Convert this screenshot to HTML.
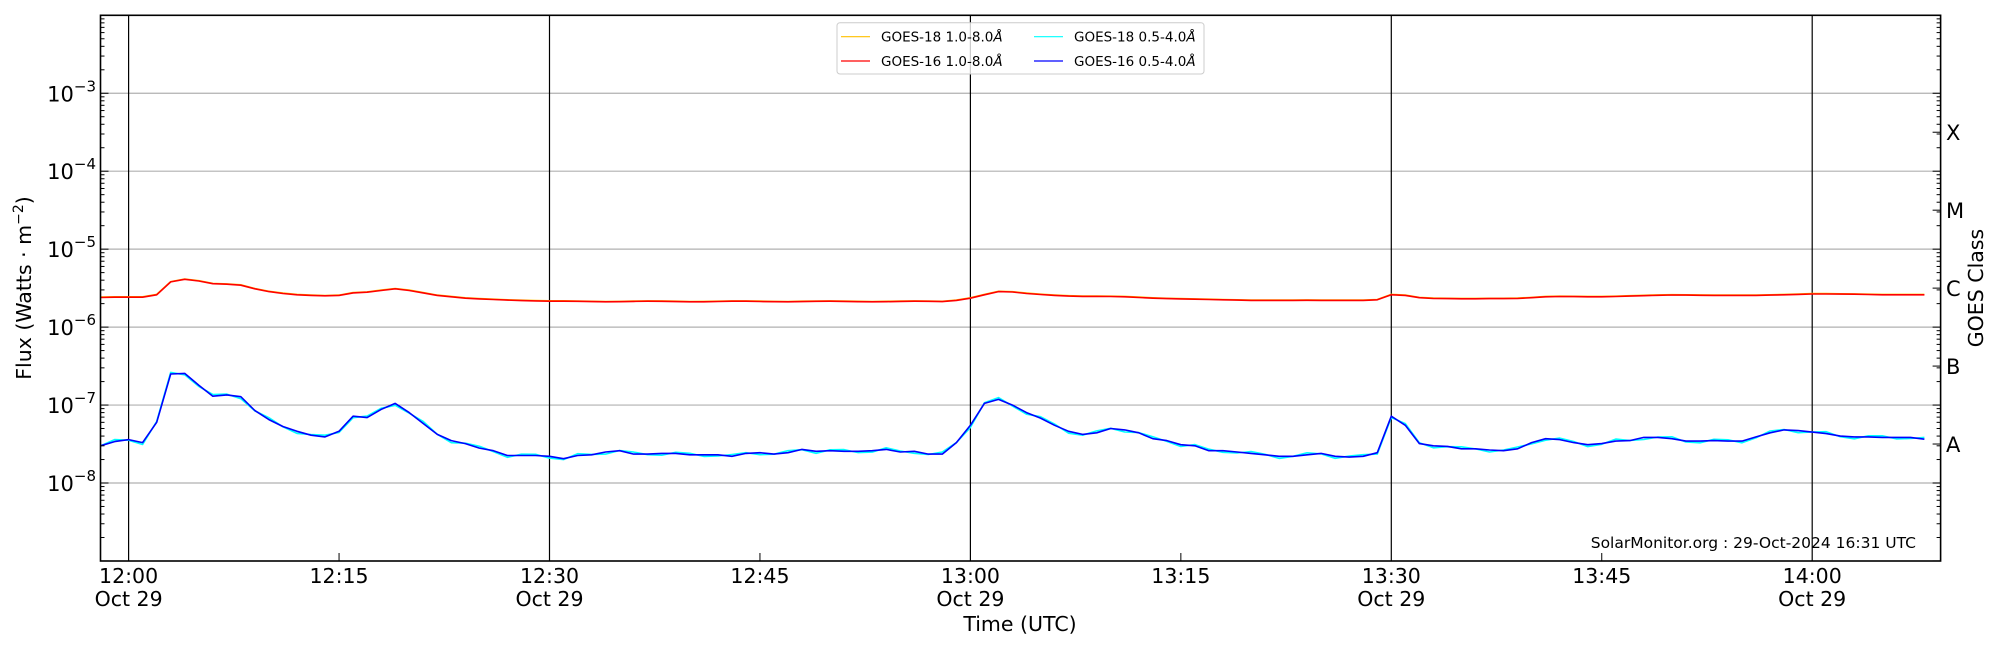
<!DOCTYPE html>
<html><head><meta charset="utf-8">
<style>
html,body{margin:0;padding:0;background:#fff;}
svg{display:block;font-family:"DejaVu Sans","Liberation Sans",sans-serif;}
</style></head>
<body>
<svg id="s" width="2000" height="650" viewBox="0 0 2000 650" xmlns="http://www.w3.org/2000/svg">
<rect width="2000" height="650" fill="#fff"/>
<g id="grid"></g>
<g id="data"></g>
<g id="axes"></g>
<rect x="837" y="22.7" width="367" height="51.3" rx="3" fill="#fff" fill-opacity="0.8" stroke="#ccc" stroke-width="1"/>
<line x1="841" y1="36.7" x2="870" y2="36.7" stroke="#ffc000" stroke-width="1.2"/>
<text x="881" y="41.5" font-size="13.5">GOES-18 1.0-8.0<tspan font-style="italic">Å</tspan></text>
<line x1="841" y1="61" x2="870" y2="61" stroke="#ff0000" stroke-width="1.2"/>
<text x="881" y="66" font-size="13.5">GOES-16 1.0-8.0<tspan font-style="italic">Å</tspan></text>
<line x1="1034" y1="36.7" x2="1063" y2="36.7" stroke="#00ffff" stroke-width="1.2"/>
<text x="1074" y="41.5" font-size="13.5">GOES-18 0.5-4.0<tspan font-style="italic">Å</tspan></text>
<line x1="1034" y1="61" x2="1063" y2="61" stroke="#0000ff" stroke-width="1.2"/>
<text x="1074" y="66" font-size="13.5">GOES-16 0.5-4.0<tspan font-style="italic">Å</tspan></text>
<text x="1916" y="548" font-size="15.5" text-anchor="end">SolarMonitor.org : 29-Oct-2024 16:31 UTC</text>
<text x="1020" y="631" font-size="20.5" text-anchor="middle">Time (UTC)</text>
<text transform="translate(31,288) rotate(-90)" font-size="20.5" text-anchor="middle">Flux (Watts · m<tspan dy="-8" font-size="14">−2</tspan><tspan dy="8">)</tspan></text>
<text transform="translate(1983,288) rotate(-90)" font-size="20.5" text-anchor="middle">GOES Class</text>
</svg>
<script>
(function(){
var NS="http://www.w3.org/2000/svg";
var L=100.5,R=1940.6,T=15.3,B=561;
function X(t){return 128.6+t*14.03;}
function Y(v){return T+(-2-Math.log10(v))*77.95;}
function el(p,tag,a,txt){var e=document.createElementNS(NS,tag);for(var k in a)e.setAttribute(k,a[k]);if(txt!=null)e.textContent=txt;p.appendChild(e);return e;}
var grid=document.getElementById('grid'),data=document.getElementById('data'),ax=document.getElementById('axes');
for(var d=-8;d<=-3;d++){var y=Y(Math.pow(10,d));el(grid,'line',{x1:L,x2:R,y1:y,y2:y,stroke:'#b0b0b0','stroke-width':1.2});}
[0,30,60,90,120].forEach(function(t){var x=X(t);el(grid,'line',{x1:x,x2:x,y1:T,y2:B,stroke:'#000','stroke-width':1.2});});
var blue=[3e-8,3.4e-8,3.6e-8,3.3e-8,6e-8,2.5e-7,2.55e-7,1.8e-7,1.3e-7,1.35e-7,1.28e-7,8.5e-8,6.5e-8,5.3e-8,4.6e-8,4.1e-8,3.9e-8,4.6e-8,7.2e-8,6.9e-8,8.8e-8,1.05e-7,8e-8,5.8e-8,4.2e-8,3.5e-8,3.2e-8,2.8e-8,2.6e-8,2.25e-8,2.25e-8,2.25e-8,2.2e-8,2.05e-8,2.25e-8,2.3e-8,2.5e-8,2.6e-8,2.35e-8,2.35e-8,2.4e-8,2.4e-8,2.3e-8,2.3e-8,2.3e-8,2.2e-8,2.4e-8,2.45e-8,2.35e-8,2.45e-8,2.7e-8,2.55e-8,2.6e-8,2.55e-8,2.55e-8,2.6e-8,2.7e-8,2.5e-8,2.55e-8,2.35e-8,2.35e-8,3.3e-8,5.5e-8,1.05e-7,1.18e-7,1.0e-7,8e-8,6.8e-8,5.5e-8,4.6e-8,4.2e-8,4.4e-8,5e-8,4.8e-8,4.4e-8,3.7e-8,3.5e-8,3.1e-8,3.0e-8,2.6e-8,2.6e-8,2.5e-8,2.4e-8,2.3e-8,2.2e-8,2.2e-8,2.3e-8,2.4e-8,2.2e-8,2.15e-8,2.2e-8,2.45e-8,7.2e-8,5.5e-8,3.2e-8,3.0e-8,2.95e-8,2.75e-8,2.75e-8,2.65e-8,2.6e-8,2.75e-8,3.3e-8,3.7e-8,3.6e-8,3.3e-8,3.1e-8,3.2e-8,3.45e-8,3.5e-8,3.85e-8,3.85e-8,3.7e-8,3.45e-8,3.45e-8,3.5e-8,3.45e-8,3.45e-8,3.9e-8,4.4e-8,4.8e-8,4.7e-8,4.5e-8,4.3e-8,4.0e-8,3.9e-8,3.9e-8,3.85e-8,3.85e-8,3.85e-8,3.65e-8];
var red=[2.4e-6,2.42e-6,2.42e-6,2.42e-6,2.6e-6,3.8e-6,4.1e-6,3.9e-6,3.6e-6,3.55e-6,3.45e-6,3.1e-6,2.85e-6,2.7e-6,2.6e-6,2.55e-6,2.52e-6,2.55e-6,2.75e-6,2.8e-6,2.95e-6,3.1e-6,2.95e-6,2.75e-6,2.55e-6,2.45e-6,2.35e-6,2.3e-6,2.26e-6,2.22e-6,2.19e-6,2.17e-6,2.15e-6];
while(red.length<61)red.push(2.13e-6+0.02e-6*Math.sin(red.length));
red=red.concat([2.2e-6,2.35e-6,2.6e-6,2.85e-6,2.82e-6,2.7e-6,2.62e-6,2.55e-6,2.5e-6,2.48e-6,2.48e-6,2.47e-6,2.45e-6,2.4e-6,2.35e-6,2.32e-6,2.3e-6,2.28e-6,2.26e-6,2.24e-6,2.22e-6,2.2e-6,2.2e-6,2.2e-6,2.2e-6,2.21e-6,2.2e-6,2.2e-6,2.2e-6,2.2e-6,2.24e-6,2.6e-6,2.55e-6,2.38e-6,2.33e-6,2.32e-6,2.31e-6,2.31e-6,2.32e-6,2.32e-6,2.33e-6,2.38e-6,2.45e-6,2.47e-6,2.46e-6,2.45e-6,2.45e-6,2.47e-6,2.5e-6,2.53e-6,2.56e-6,2.58e-6,2.57e-6,2.56e-6,2.55e-6,2.55e-6,2.55e-6,2.55e-6,2.57e-6,2.6e-6,2.63e-6,2.66e-6,2.66e-6,2.65e-6,2.64e-6,2.62e-6,2.6e-6,2.6e-6,2.6e-6,2.6e-6]);
function path(arr,f,col){var d='';for(var i=0;i<arr.length&&i<=130;i++){var v=arr[i]*(f?f(i):1);d+=(i?'L':'M')+X(i-2).toFixed(1)+','+Y(v).toFixed(1);}el(data,'path',{d:d,fill:'none',stroke:col,'stroke-width':1.6,'stroke-linejoin':'round'});}
path(red,function(i){return 1.01;},'#ffc000');
path(blue,function(i){return 1+0.06*Math.sin(i*1.7);},'#00ffff');
path(red,null,'#ff0000');
path(blue,null,'#0000ff');
el(ax,'rect',{x:L,y:T,width:R-L,height:B-T,fill:'none',stroke:'#000','stroke-width':1.6});
for(var d=-9;d<=-2;d++){for(var m=1;m<=9;m++){var v=m*Math.pow(10,d);var y=Y(v);if(y<T-0.5||y>B+0.5)continue;var len=(m==1)?8:4;
el(ax,'line',{x1:L,x2:L+len,y1:y,y2:y,stroke:'#000','stroke-width':1});
el(ax,'line',{x1:R,x2:R-len,y1:y,y2:y,stroke:'#000','stroke-width':1});}
if(d>=-8&&d<=-3){var y=Y(Math.pow(10,d));var t=el(ax,'text',{x:96,y:y+8,'font-size':21,'text-anchor':'end'});
t.appendChild(document.createTextNode('10'));el(t,'tspan',{dy:-10,'font-size':15},'−'+(-d));}}
['A','B','C','M','X'].forEach(function(c,i){var y=Y(Math.pow(10,-7.5+i));el(ax,'line',{x1:R,x2:R-8,y1:y,y2:y,stroke:'#000','stroke-width':1});el(ax,'text',{x:1946,y:y+8,'font-size':21},c);});
[15,45,75,105].forEach(function(t){el(ax,'line',{x1:X(t),x2:X(t),y1:B,y2:B-8,stroke:'#000','stroke-width':1});});
var labs=['12:00','12:15','12:30','12:45','13:00','13:15','13:30','13:45','14:00'];
labs.forEach(function(l,i){var x=X(i*15);el(ax,'text',{x:x,y:583,'font-size':20.5,'text-anchor':'middle'},l);if(i%2==0)el(ax,'text',{x:x,y:606,'font-size':20.5,'text-anchor':'middle'},'Oct 29');});
})();
</script>
</body></html>
